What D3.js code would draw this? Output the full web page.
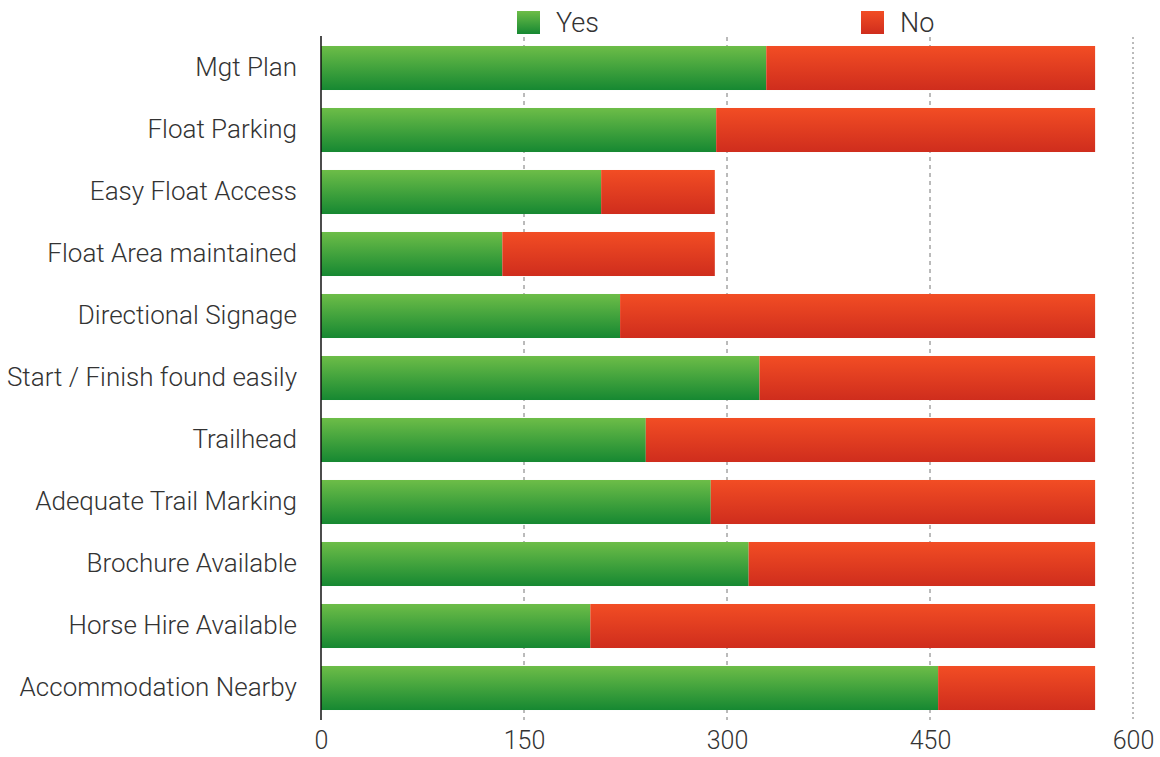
<!DOCTYPE html>
<html>
<head>
<meta charset="utf-8">
<script src="https://cdn.jsdelivr.net/npm/d3@7"></script>
<style>
  body { margin: 0; background: #fff; }
  text { font-family: Roboto, "Liberation Sans", Arial, sans-serif; font-weight: 300; fill: #333; }
</style>
</head>
<body>
<div id="graph-container"></div>
<script>
const width = 1160, height = 757;

const categories = ["Mgt Plan", "Float Parking", "Easy Float Access", "Float Area maintained",
  "Directional Signage", "Start / Finish found easily", "Trailhead", "Adequate Trail Marking",
  "Brochure Available", "Horse Hire Available", "Accommodation Nearby"];
const yesValues = [329, 292, 207, 134, 221, 324, 240, 288, 316, 199, 456];
const noValues  = [243, 280, 84, 157, 351, 248, 332, 284, 256, 373, 116];
const seriesNames = ["Yes", "No"];
const xTicks = [0, 150, 300, 450, 600];

const data = categories.map((c, i) => ({cat: c, Yes: yesValues[i], No: noValues[i]}));
const stacked = d3.stack().keys(seriesNames)(data);

const x = d3.scaleLinear().domain([0, 600]).range([321, 1133]);
const y = d3.scaleBand().domain(categories).range([37, 719]).paddingInner(0.29).paddingOuter(0.145);

const svg = d3.create("svg")
  .attr("width", width)
  .attr("height", height)
  .attr("viewBox", [0, 0, width, height]);

const defs = svg.append("defs");
const grads = {
  Yes: ["#6dbd48", "#168832"],
  No: ["#f24d24", "#cf2d1d"]
};
Object.entries(grads).forEach(([k, [c1, c2]]) => {
  const g = defs.append("linearGradient").attr("id", "g" + k)
    .attr("x1", 0).attr("y1", 0).attr("x2", 0).attr("y2", 1);
  g.append("stop").attr("offset", "0%").attr("stop-color", c1);
  g.append("stop").attr("offset", "100%").attr("stop-color", c2);
});

// grid lines
svg.append("g")
  .selectAll("line")
  .data(xTicks.slice(1))
  .join("line")
  .attr("x1", d => x(d)).attr("x2", d => x(d))
  .attr("y1", 37).attr("y2", 720)
  .attr("stroke", "#777")
  .attr("stroke-width", 1)
  .attr("stroke-dasharray", d => d === 600 ? "2,3" : "4,4");

// bars
svg.append("g")
  .selectAll("g")
  .data(stacked)
  .join("g")
  .attr("fill", d => `url(#g${d.key})`)
  .selectAll("rect")
  .data(d => d)
  .join("rect")
  .attr("x", d => x(d[0]))
  .attr("y", d => y(d.data.cat))
  .attr("width", d => x(d[1]) - x(d[0]))
  .attr("height", y.bandwidth());

// y axis line
svg.append("line")
  .attr("x1", 321).attr("x2", 321)
  .attr("y1", 36).attr("y2", 720)
  .attr("stroke", "#111").attr("stroke-width", 1.5);

// x axis labels
const gx = svg.append("g")
  .attr("transform", "translate(0,731)")
  .call(d3.axisBottom(x).tickValues(xTicks).tickSize(0).tickPadding(0));
gx.select(".domain").remove();
gx.selectAll("text")
  .attr("font-size", 25)
  .attr("font-family", null)
  .attr("fill", "#333");

// y labels
const gy = svg.append("g")
  .attr("transform", "translate(297,0)")
  .call(d3.axisLeft(y).tickSize(0).tickPadding(0));
gy.select(".domain").remove();
gy.selectAll("text")
  .attr("font-size", 26)
  .attr("font-family", null)
  .attr("fill", "#333");

// legend
const legendX = [517, 861];
const lg = svg.append("g")
  .selectAll("g")
  .data(seriesNames)
  .join("g")
  .attr("transform", (d, i) => `translate(${legendX[i]},11)`);
lg.append("rect")
  .attr("width", 23).attr("height", 23)
  .attr("fill", d => `url(#g${d})`);
lg.append("text")
  .attr("x", 39).attr("y", 21)
  .attr("font-size", 27)
  .text(d => d);

document.getElementById("graph-container").appendChild(svg.node());
</script>
</body>
</html>
